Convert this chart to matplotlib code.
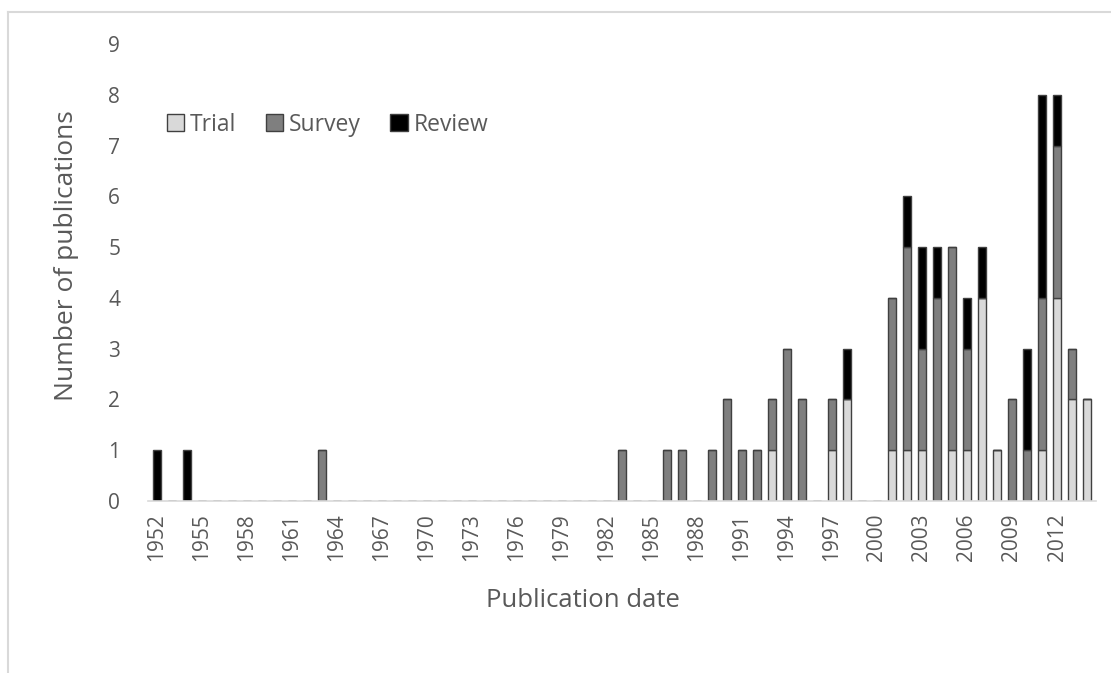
import numpy as np
import matplotlib.pyplot as plt
from matplotlib.lines import Line2D
from matplotlib.patches import Patch

# publication counts per year, 1952-2014
years = list(range(1952, 2015))

trial_counts = {1993: 1, 1997: 1, 1998: 2, 2001: 1, 2002: 1, 2003: 1, 2005: 1,
                2006: 1, 2007: 4, 2008: 1, 2011: 1, 2012: 4, 2013: 2, 2014: 2}
survey_counts = {1963: 1, 1983: 1, 1986: 1, 1987: 1, 1989: 1, 1990: 2, 1991: 1,
                 1992: 1, 1993: 1, 1994: 3, 1995: 2, 1997: 1, 2001: 3, 2002: 4,
                 2003: 2, 2004: 4, 2005: 4, 2006: 2, 2009: 2, 2010: 1, 2011: 3,
                 2012: 3, 2013: 1}
review_counts = {1952: 1, 1954: 1, 1998: 1, 2002: 1, 2003: 2, 2004: 1, 2006: 1,
                 2007: 1, 2010: 2, 2011: 4, 2012: 1}

tick_years = list(range(1952, 2013, 3))

trial = np.array([trial_counts.get(y, 0) for y in years])
survey = np.array([survey_counts.get(y, 0) for y in years])
review = np.array([review_counts.get(y, 0) for y in years])

text_color = '#595959'
font = 'Open Sans'

fig = plt.figure(figsize=(11.11, 6.73), dpi=100)
ax = fig.add_axes([148 / 1111, 1 - 501 / 673, (1096 - 148) / 1111, 457 / 673])

x = np.arange(len(years))
w = 0.47
edge = dict(edgecolor='#404040', linewidth=1.0)
ax.bar(x, trial, w, color='#d9d9d9', label='Trial', **edge)
ax.bar(x, survey, w, bottom=trial, color='#7f7f7f', label='Survey', **edge)
ax.bar(x, review, w, bottom=trial + survey, color='#000000', label='Review', **edge)

ax.set_xlim(-0.6, len(years) - 0.4)
ax.set_ylim(0, 9)
ax.set_yticks(range(0, 10))

ax.set_xticks([years.index(y) for y in tick_years])
ax.set_xticklabels([str(y) for y in tick_years], rotation=90)

for side in ['top', 'right', 'left']:
    ax.spines[side].set_visible(False)
ax.spines['bottom'].set_color('#d9d9d9')
ax.spines['bottom'].set_linewidth(1.2)

ax.tick_params(axis='both', length=0, labelsize=15, labelcolor=text_color)
ax.tick_params(axis='y', pad=20)
ax.tick_params(axis='x', pad=9)
for lab in ax.get_xticklabels() + ax.get_yticklabels():
    lab.set_fontfamily(font)

ax.set_ylabel('Number of publications', fontsize=19, color=text_color,
              fontfamily=font)
ax.yaxis.set_label_coords(-0.073, 0.538)
ax.set_xlabel('Publication date', fontsize=18.5, color=text_color,
              fontfamily=font)
ax.xaxis.set_label_coords(0.459, -0.19)

handles = [Patch(facecolor='#d9d9d9', edgecolor='#404040', label='Trial'),
           Patch(facecolor='#7f7f7f', edgecolor='#404040', label='Survey'),
           Patch(facecolor='#000000', edgecolor='#404040', label='Review')]
leg = ax.legend(handles=handles, loc='upper left', bbox_to_anchor=(-0.002, 0.895),
                ncol=3, frameon=False, handlelength=0.75,
                handleheight=0.75, handletextpad=0.25, columnspacing=1.3,
                prop={'family': font, 'size': 16.5})
for t in leg.get_texts():
    t.set_color(text_color)

# outer chart frame (top and left edges)
fig.add_artist(Line2D([8 / 1111, 1.0], [1 - 12 / 673, 1 - 12 / 673],
                      transform=fig.transFigure, color='#d9d9d9', linewidth=1.5))
fig.add_artist(Line2D([8 / 1111, 8 / 1111], [0.0, 1 - 12 / 673],
                      transform=fig.transFigure, color='#d9d9d9', linewidth=1.5))

fig.savefig('out.png', dpi=100)
